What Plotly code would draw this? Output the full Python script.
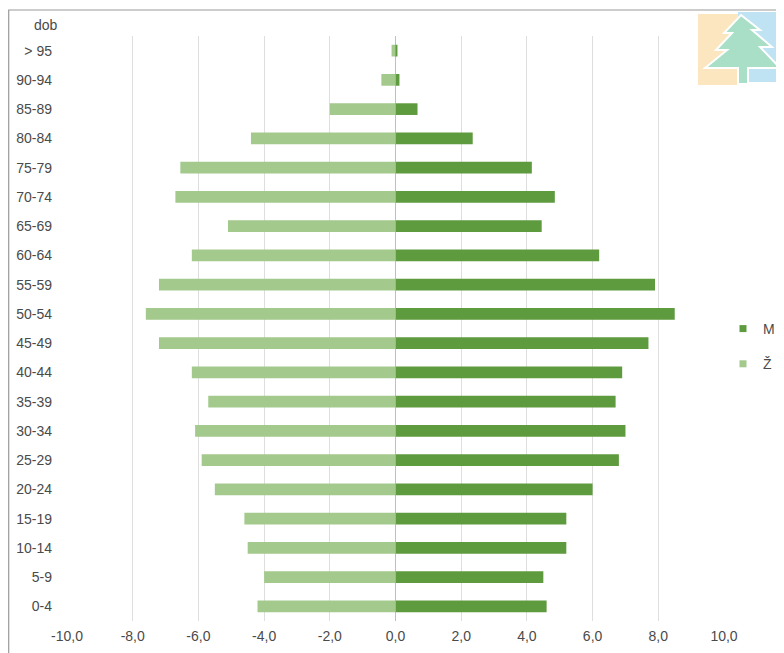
import plotly.graph_objects as go

categories = ["0-4", "5-9", "10-14", "15-19", "20-24", "25-29", "30-34", "35-39",
              "40-44", "45-49", "50-54", "55-59", "60-64", "65-69", "70-74",
              "75-79", "80-84", "85-89", "90-94", "> 95"]
muzi = [4.6, 4.5, 5.2, 5.2, 6.0, 6.8, 7.0, 6.7, 6.9, 7.7, 8.5, 7.9, 6.2, 4.45,
        4.85, 4.15, 2.35, 0.67, 0.12, 0.06]
zeny = [-4.2, -4.0, -4.5, -4.6, -5.5, -5.9, -6.1, -5.7, -6.2, -7.2, -7.6, -7.2,
        -6.2, -5.1, -6.7, -6.55, -4.4, -2.0, -0.43, -0.12]
x_ticks = [-10, -8, -6, -4, -2, 0, 2, 4, 6, 8, 10]
x_tick_labels = ["-10,0", "-8,0", "-6,0", "-4,0", "-2,0", "0,0", "2,0", "4,0", "6,0", "8,0", "10,0"]

DARK = "#5e9a3e"
LIGHT = "#a3c98c"
FONT = "Liberation Sans Narrow, Arial Narrow, Liberation Sans, Arial, sans-serif"
FS = 14
TXT = "#4a4a4a"

fig = go.Figure()
fig.add_trace(go.Bar(y=categories, x=muzi, orientation="h", name="M",
                     marker=dict(color=DARK, line=dict(width=0)), showlegend=False))
fig.add_trace(go.Bar(y=categories, x=zeny, orientation="h", name="Ž",
                     marker=dict(color=LIGHT, line=dict(width=0)), showlegend=False))
fig.add_trace(go.Scatter(x=[None], y=[None], mode="markers", name="M",
                         marker=dict(symbol="square", size=7, color=DARK),
                         legendgroup="m", showlegend=True))
fig.add_trace(go.Scatter(x=[None], y=[None], mode="markers", name="Ž",
                         marker=dict(symbol="square", size=7, color=LIGHT),
                         legendgroup="z", showlegend=True))

# the page body adds an 8px offset; figure is sized to fit the 784x653 window
OFF = 8
W, H = 784 - OFF, 653 - OFF
ml = 67 - OFF
mr = W - (724 - OFF)
mt = 36 - OFF
mb = H - (621 - OFF)
pw = W - ml - mr
ph = H - mt - mb

def px_x(p):  # page pixel -> paper
    return (p - OFF - ml) / pw

def px_y(p):
    return (H - mb - (p - OFF)) / ph

shapes = [
    dict(type="rect", xref="paper", yref="paper",
         x0=px_x(8.7), x1=px_x(800), y0=px_y(670), y1=px_y(10),
         line=dict(color="#9a9a9a", width=1.2), fillcolor="rgba(0,0,0,0)", layer="below"),
    dict(type="rect", xref="paper", yref="paper",
         x0=px_x(698), x1=px_x(740), y0=px_y(85), y1=px_y(14),
         line=dict(width=0), fillcolor="#fbe6bf", layer="above"),
    dict(type="rect", xref="paper", yref="paper",
         x0=px_x(738), x1=px_x(784), y0=px_y(82), y1=px_y(12),
         line=dict(width=0), fillcolor="#bfe3f2", layer="above"),
]
tree_px = [(741, 15), (760, 30), (752, 30), (772, 47), (760, 47), (780, 68),
           (748, 68), (748, 84), (738, 84), (738, 68), (705, 68), (727, 50),
           (716, 50), (732, 33), (724, 33)]
path = "M " + " L ".join(f"{px_x(x):.4f},{px_y(y):.4f}" for x, y in tree_px) + " Z"
shapes.append(dict(type="path", xref="paper", yref="paper", path=path,
                   line=dict(color="#ffffff", width=2), fillcolor="#a9dfc6", layer="above"))

fig.update_layout(
    width=W, height=H,
    margin=dict(l=ml, r=mr, t=mt, b=mb, autoexpand=False),
    paper_bgcolor="white", plot_bgcolor="white",
    barmode="overlay", bargap=0.6,
    font=dict(family=FONT, size=FS, color=TXT),
    showlegend=True,
    legend=dict(xref="container", yref="container",
                x=(723 - OFF) / W, y=1 - (313 - OFF) / H, xanchor="left", yanchor="top",
                tracegroupgap=14, traceorder="grouped",
                font=dict(size=FS, color=TXT),
                itemwidth=30, bgcolor="rgba(0,0,0,0)"),
    xaxis=dict(range=[-10, 10], tickvals=x_ticks, ticktext=x_tick_labels,
               showgrid=True, gridcolor="#dedede", gridwidth=1,
               zeroline=True, zerolinecolor="#bfbfbf", zerolinewidth=1,
               showline=False, ticks="", ticklen=0, automargin=False,
               ticklabelstandoff=5,
               tickfont=dict(size=FS, color=TXT)),
    yaxis=dict(type="category", categoryorder="array", categoryarray=categories,
               range=[-0.5, len(categories) - 0.5], automargin=False,
               showgrid=False, zeroline=False, showline=False, ticks="",
               ticklabelstandoff=14,
               tickfont=dict(size=FS, color=TXT)),
    shapes=shapes,
    annotations=[dict(text="dob", xref="paper", yref="paper",
                      x=px_x(46), y=px_y(25), xanchor="center", yanchor="middle",
                      showarrow=False, font=dict(size=FS, color=TXT))],
)

fig.write_html("out.html")
